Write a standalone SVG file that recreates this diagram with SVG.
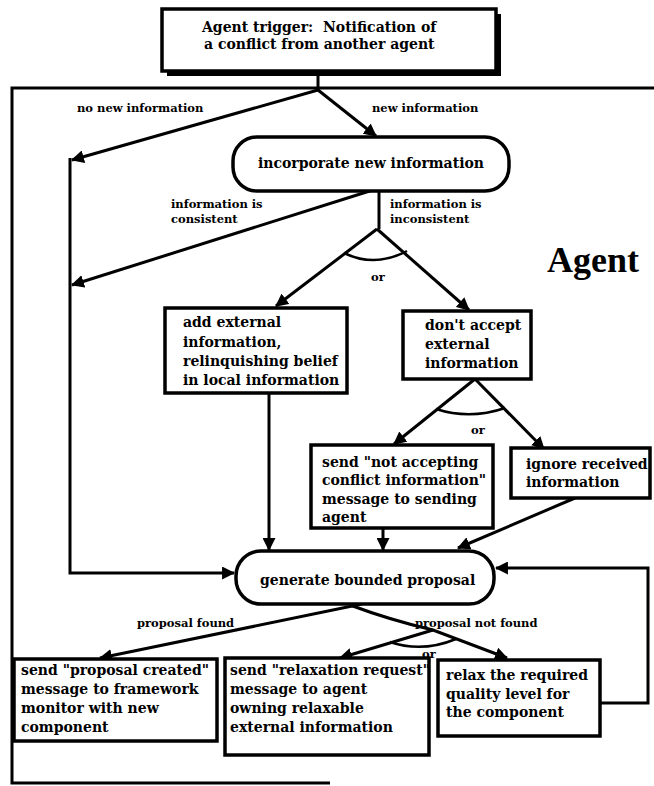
<svg xmlns="http://www.w3.org/2000/svg" width="654" height="786" viewBox="0 0 654 786">
<style>
.box{fill:#fff;stroke:#000;stroke-width:3.5}
.conn{fill:none;stroke:#000;stroke-width:3}
.arc{fill:none;stroke:#000;stroke-width:2.5}
.t{font-family:"DejaVu Serif","Liberation Serif",serif;font-weight:bold;font-size:14px;fill:#000}
.s{font-family:"DejaVu Serif","Liberation Serif",serif;font-weight:bold;font-size:11.5px;fill:#000}
.big{font-family:"Liberation Serif","Times New Roman",serif;font-weight:bold;font-size:36px;fill:#000}
</style>
<defs>
<marker id="ah" viewBox="0 0 12 12" refX="11" refY="6" markerWidth="13" markerHeight="13" markerUnits="userSpaceOnUse" orient="auto"><path d="M0,0 L12,6 L0,12 z" fill="#000"/></marker>
</defs>
<rect width="654" height="786" fill="#fff"/>
<g id="frame">
<path d="M654 88 H12 V783 H330" fill="none" stroke="#000" stroke-width="3"/>
<text class="big" x="547" y="272">Agent</text>
</g>
<g id="connectors">
<path class="conn" d="M318 74 V90" stroke-width="6"/>
<path class="conn" d="M318 90 L72 160" marker-end="url(#ah)"/>
<path class="conn" d="M70 158 V573 H234" marker-end="url(#ah)"/>
<path class="conn" d="M318 90 L376 136" marker-end="url(#ah)"/>
<path class="conn" d="M379 191 V229"/>
<path class="conn" d="M376 189 L72 285" marker-end="url(#ah)"/>
<path class="conn" d="M377 229 L276 306" marker-end="url(#ah)"/>
<path class="conn" d="M377 229 L469 310" marker-end="url(#ah)"/>
<path class="arc" d="M344 253 Q375 268 407 251"/>
<path class="conn" d="M269 393 V550" marker-end="url(#ah)"/>
<path class="conn" d="M475 379 L394 444" marker-end="url(#ah)"/>
<path class="conn" d="M475 379 L544 449" marker-end="url(#ah)"/>
<path class="arc" d="M436 409 Q470 420 505 408"/>
<path class="conn" d="M383 528 V550" marker-end="url(#ah)"/>
<path class="conn" d="M575 498 L458 548" marker-end="url(#ah)"/>
<path class="conn" d="M600 703 H648 V568 H496" marker-end="url(#ah)"/>
<path class="conn" d="M362 604 L100 658" marker-end="url(#ah)"/>
<path class="conn" d="M350 605 Q390 620 433 630 L507 658" marker-end="url(#ah)"/>
<path class="conn" d="M433 630 L340 658" marker-end="url(#ah)"/>
<path class="arc" d="M390 642 Q422 653 456 639"/>
<text class="s" x="77" y="112">no new information</text>
<text class="s" x="372" y="112">new information</text>
<text class="s" x="171" y="208">information is</text>
<text class="s" x="171" y="223">consistent</text>
<text class="s" x="390" y="208">information is</text>
<text class="s" x="390" y="223">inconsistent</text>
<text class="s" x="371" y="281" font-size="10">or</text>
<text class="s" x="471" y="434" font-size="10">or</text>
<text class="s" x="137" y="627">proposal found</text>
<text class="s" x="415" y="627">proposal not found</text>
<text class="s" x="422" y="658" font-size="10">or</text>
</g>
<g id="trigger">
<rect x="167" y="14" width="334" height="62" fill="#000"/>
<rect class="box" x="162" y="9" width="334" height="62"/>
<text class="t" x="202" y="32" font-size="13" xml:space="preserve">Agent trigger:  Notification of</text>
<text class="t" x="204" y="49" font-size="13">a conflict from another agent</text>
</g>
<g id="incorporate">
<rect class="box" x="233" y="137" width="276" height="54" rx="24"/>
<text class="t" x="258" y="168">incorporate new information</text>
</g>
<g id="add-external">
<rect class="box" x="165" y="308" width="182" height="85"/>
<text class="t" x="183" y="327">add external</text>
<text class="t" x="183" y="347">information,</text>
<text class="t" x="183" y="366">relinquishing belief</text>
<text class="t" x="183" y="385">in local information</text>
</g>
<g id="dont-accept">
<rect class="box" x="403" y="311" width="128" height="68"/>
<text class="t" x="425" y="330">don't accept</text>
<text class="t" x="425" y="349">external</text>
<text class="t" x="425" y="368">information</text>
</g>
<g id="send-not-accepting">
<rect class="box" x="311" y="445" width="182" height="83"/>
<text class="t" x="322" y="467">send "not accepting</text>
<text class="t" x="322" y="485">conflict information"</text>
<text class="t" x="322" y="504">message to sending</text>
<text class="t" x="322" y="522">agent</text>
</g>
<g id="ignore">
<rect class="box" x="511" y="448" width="139" height="50"/>
<text class="t" x="526" y="469">ignore received</text>
<text class="t" x="526" y="487">information</text>
</g>
<g id="generate">
<rect class="box" x="236" y="551" width="258" height="53" rx="25"/>
<text class="t" x="260" y="585">generate bounded proposal</text>
</g>
<g id="proposal-created">
<rect class="box" x="14" y="659" width="203" height="82"/>
<text class="t" x="21" y="675">send "proposal created"</text>
<text class="t" x="21" y="694">message to framework</text>
<text class="t" x="21" y="713">monitor with new</text>
<text class="t" x="21" y="732">component</text>
</g>
<g id="relaxation-request">
<rect class="box" x="225" y="658" width="204" height="97"/>
<text class="t" x="230" y="675">send "relaxation request"</text>
<text class="t" x="230" y="694">message to agent</text>
<text class="t" x="230" y="713">owning relaxable</text>
<text class="t" x="230" y="732">external information</text>
</g>
<g id="relax">
<rect class="box" x="438" y="660" width="162" height="76"/>
<text class="t" x="446" y="680">relax the required</text>
<text class="t" x="446" y="699">quality level for</text>
<text class="t" x="446" y="717">the component</text>
</g>
</svg>
